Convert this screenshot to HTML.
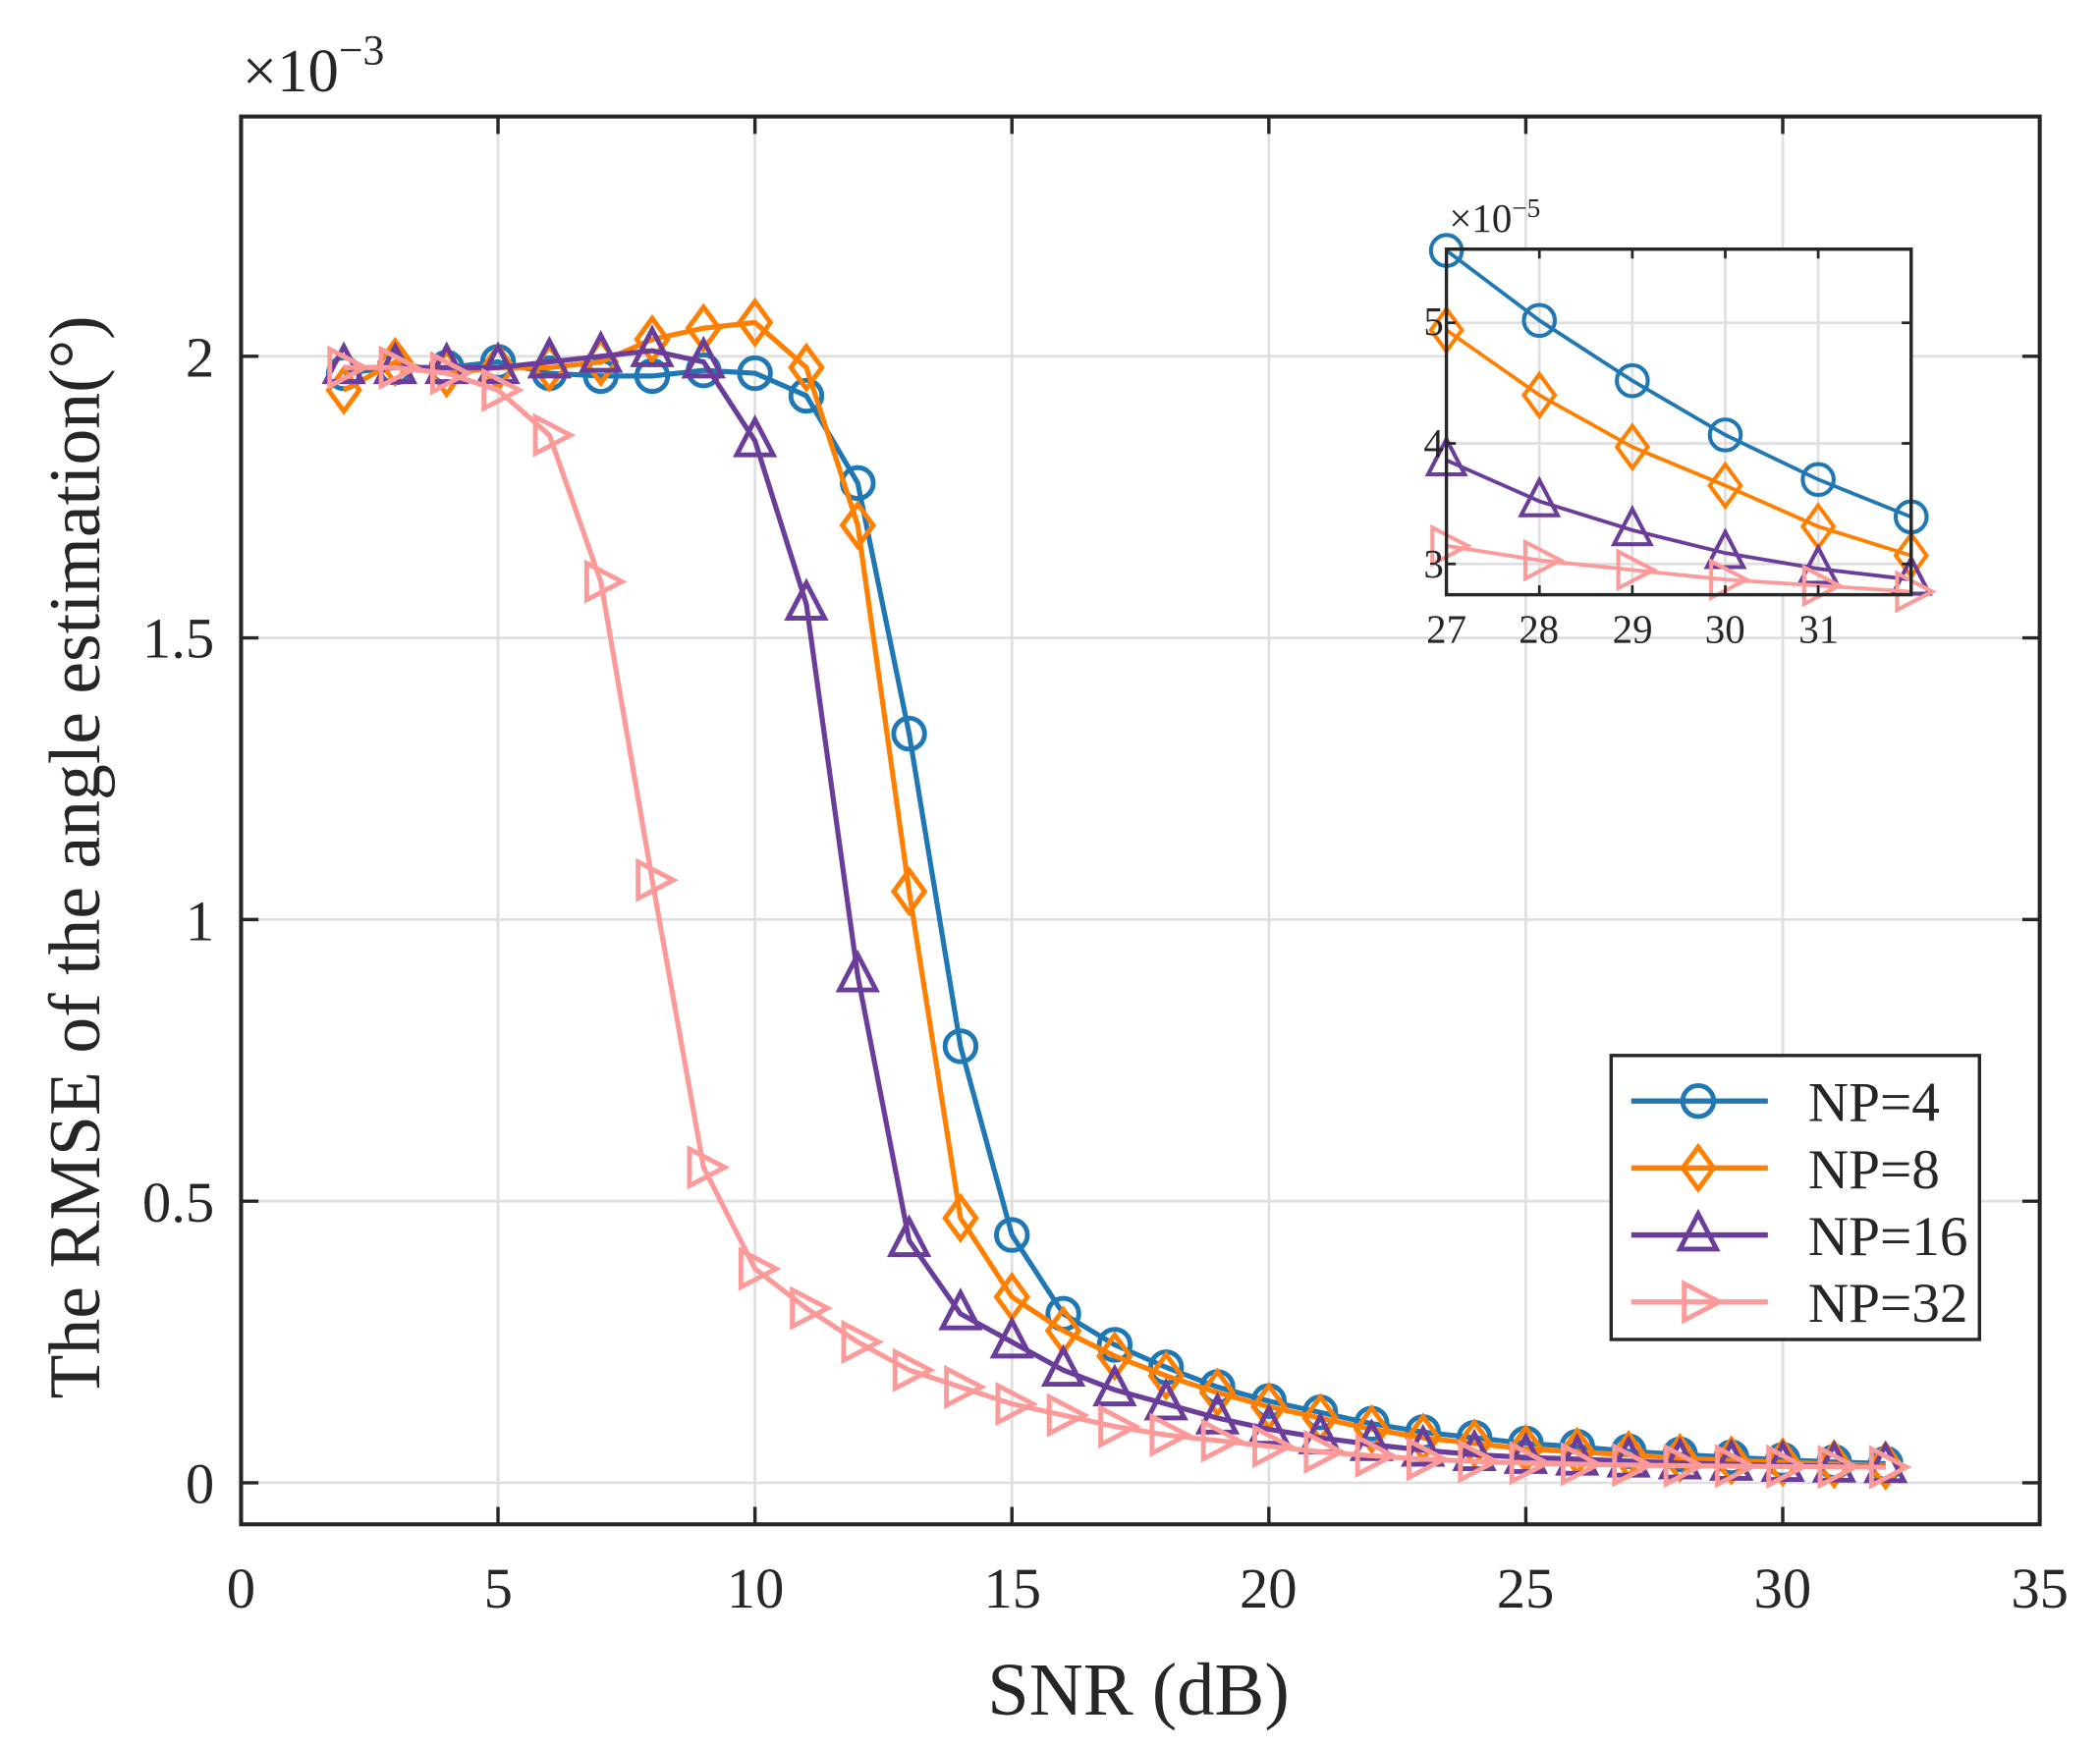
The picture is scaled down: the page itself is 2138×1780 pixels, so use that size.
<!DOCTYPE html>
<html><head><meta charset="utf-8"><style>
html,body{margin:0;padding:0;background:#fff;}
svg{display:block;}
text{font-family:"Liberation Serif",serif;fill:#262626;}
</style></head><body>
<svg id="s" width="2138" height="1780" viewBox="0 0 1568 1305" preserveAspectRatio="none" xmlns="http://www.w3.org/2000/svg">
<rect x="0" y="0" width="1568" height="1305" fill="#fff"/>
<g id="grid" stroke="#dfdfdf" stroke-width="2"></g>
<rect x="180" y="87" width="1343" height="1051" fill="none" stroke="#262626" stroke-width="3"/>
<g id="ticks" stroke="#262626" stroke-width="2.5"></g>
<g font-size="43" text-anchor="middle">
<text x="180" y="1200">0</text><text x="372" y="1200">5</text><text x="564" y="1200">10</text><text x="756" y="1200">15</text><text x="947" y="1200">20</text><text x="1139" y="1200">25</text><text x="1331" y="1200">30</text><text x="1523" y="1200">35</text>
</g>
<g font-size="43" text-anchor="end">
<text x="160" y="1122">0</text><text x="160" y="912">0.5</text><text x="160" y="702">1</text><text x="160" y="491">1.5</text><text x="160" y="281">2</text>
</g>
<text x="181" y="68" font-size="46">×10<tspan dy="-20" font-size="32">−3</tspan></text>
<text x="850" y="1280" font-size="56" text-anchor="middle">SNR (dB)</text>
<text transform="translate(74,640) rotate(-90)" font-size="54" text-anchor="middle">The RMSE of the angle estimation(°)</text>
<g id="main"></g>
<rect x="1080" y="186" width="347" height="258" fill="#fff"/>
<g id="igrid" stroke="#dfdfdf" stroke-width="2"></g>
<g id="imain"></g>
<rect x="1080" y="186" width="347" height="258" fill="none" stroke="#262626" stroke-width="2.5"/>
<g id="iticks" stroke="#262626" stroke-width="2"></g>
<g font-size="30" text-anchor="middle">
<text x="1080" y="480">27</text><text x="1149" y="480">28</text><text x="1219" y="480">29</text><text x="1288" y="480">30</text><text x="1358" y="480">31</text>
</g>
<g font-size="30" text-anchor="end">
<text x="1078" y="250">5</text><text x="1078" y="341">4</text><text x="1078" y="431">3</text>
</g>
<text x="1082" y="173" font-size="30">×10<tspan dy="-11" font-size="20">−5</tspan></text>
<rect x="1203" y="788" width="275" height="212" fill="#fff" stroke="#262626" stroke-width="2.5"/>
<g id="leg"></g>
<g font-size="42">
<text x="1350" y="837">NP=4</text><text x="1350" y="887">NP=8</text><text x="1350" y="937">NP=16</text><text x="1350" y="987">NP=32</text>
</g>
</svg>
<script>
var NS="http://www.w3.org/2000/svg";
function el(p,t,a){var e=document.createElementNS(NS,t);for(var k in a)e.setAttribute(k,a[k]);document.getElementById(p).appendChild(e);return e;}
var cols=["#1f77b4","#ff7f00","#6a3d9a","#fb9a99"];
var d=[
[1.97,1.98,1.98,1.99,1.97,1.965,1.965,1.975,1.97,1.93,1.775,1.33,0.775,0.44,0.30,0.245,0.205,0.17,0.145,0.125,0.105,0.09,0.08,0.07,0.064,0.056,0.0502,0.0452,0.0407,0.037,0.0339],
[1.94,1.99,1.97,1.98,1.98,1.99,2.03,2.05,2.06,1.98,1.70,1.05,0.47,0.33,0.27,0.225,0.19,0.16,0.135,0.115,0.095,0.08,0.07,0.06,0.055,0.0494,0.044,0.0397,0.0365,0.0331,0.0307],
[1.98,1.98,1.98,1.98,1.99,2.00,2.01,1.99,1.85,1.56,0.90,0.43,0.30,0.25,0.20,0.165,0.14,0.115,0.095,0.08,0.068,0.058,0.05,0.045,0.042,0.0386,0.0352,0.0328,0.0309,0.0296,0.0287],
[1.98,1.98,1.97,1.94,1.86,1.60,1.07,0.56,0.38,0.31,0.25,0.20,0.17,0.14,0.12,0.10,0.085,0.075,0.065,0.055,0.048,0.042,0.038,0.035,0.033,0.0315,0.0303,0.0295,0.0287,0.0282,0.0277]];
function marker(g,k,x,y,s,w){var c=cols[k],a={fill:"none",stroke:c,"stroke-width":w};
 if(k==0){a.cx=x;a.cy=y;a.r=11*s;el(g,"circle",a);}
 else{var p;if(k==1)p=[[x,y-15*s],[x+11*s,y],[x,y+15*s],[x-11*s,y]];
 else if(k==2)p=[[x,y-15*s],[x+13*s,y+10*s],[x-13*s,y+10*s]];
 else p=[[x+15*s,y],[x-10*s,y-13*s],[x-10*s,y+13*s]];
 a.points=p.map(function(q){return q.join(",")}).join(" ");el(g,"polygon",a);}}
for(var i=1;i<7;i++){var x=180+38.371*5*i;el("grid","line",{x1:x,x2:x,y1:87,y2:1138});}
for(var i=0;i<5;i++){var y=1107-210.25*i;el("grid","line",{x1:180,x2:1523,y1:y,y2:y});
 el("ticks","line",{x1:180,x2:193,y1:y,y2:y});el("ticks","line",{x1:1523,x2:1510,y1:y,y2:y});}
for(var i=1;i<7;i++){var x=180+38.371*5*i;el("ticks","line",{x1:x,x2:x,y1:1138,y2:1125});el("ticks","line",{x1:x,x2:x,y1:87,y2:100});}
function X(n){return 180+38.371*n;} function Y(v){return 1107-420.5*v;}
for(var k=0;k<4;k++){var pts=[];for(var i=0;i<31;i++)pts.push(X(i+2)+","+Y(d[k][i]));
 el("main","polyline",{points:pts.join(" "),fill:"none",stroke:cols[k],"stroke-width":3.8});
 for(var i=0;i<31;i++)marker("main",k,X(i+2),Y(d[k][i]),1.05,3.6);}
var inv=[[5.6,5.02,4.52,4.07,3.7,3.39],[4.94,4.4,3.97,3.65,3.31,3.07],[3.86,3.52,3.28,3.09,2.96,2.87],[3.15,3.03,2.95,2.87,2.82,2.77]];
function IX(n){return 1080+69.4*(n-27);} function IY(v){return 421-90*(v-3);}
for(var n=28;n<32;n++){el("igrid","line",{x1:IX(n),x2:IX(n),y1:186,y2:444});el("iticks","line",{x1:IX(n),x2:IX(n),y1:186,y2:193});el("iticks","line",{x1:IX(n),x2:IX(n),y1:444,y2:437});}
for(var v=3;v<6;v++){el("igrid","line",{x1:1080,x2:1427,y1:IY(v),y2:IY(v)});el("iticks","line",{x1:1080,x2:1087,y1:IY(v),y2:IY(v)});el("iticks","line",{x1:1427,x2:1420,y1:IY(v),y2:IY(v)});}
for(var k=0;k<4;k++){var pts=[];for(var i=0;i<6;i++)pts.push(IX(27+i)+","+IY(inv[k][i]));
 el("imain","polyline",{points:pts.join(" "),fill:"none",stroke:cols[k],"stroke-width":2.8});
 for(var i=0;i<6;i++)marker("imain",k,IX(27+i),IY(inv[k][i]),1.05,3);}
for(var k=0;k<4;k++){var y=822+50*k;el("leg","line",{x1:1218,x2:1320,y1:y,y2:y,stroke:cols[k],"stroke-width":4});marker("leg",k,1268,y,1.05,3.6);}
</script>
</body></html>
